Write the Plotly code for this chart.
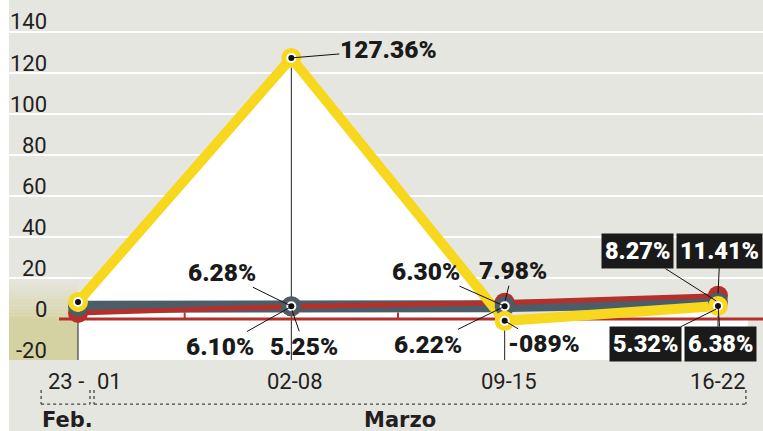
import plotly.graph_objects as go

# ---------------- data ----------------
categories = ["23 - 01", "02-08", "09-15", "16-22"]
x_pos = [0, 1, 2, 3]
yellow_vals = [8.3, 127.36, -0.89, 6.38]
grey_vals = [6.0, 6.28, 6.30, 8.27]
red_vals = [3.0, 6.10, 7.98, 11.41]
green_vals = [4.0, 5.25, 6.22, 5.32]
y_ticks = [-20, 0, 20, 40, 60, 80, 100, 120, 140]
month_labels = ["Feb.", "Marzo"]

# labels: (series values, index, text, ax, ay, boxed)
point_labels = [
    (yellow_vals, 1, "127.36%", 97, -8, False),
    (grey_vals, 1, "6.28%", -69, -34, False),
    (red_vals, 1, "6.10%", -71, 40, False),
    (green_vals, 1, "5.25%", 13, 38, False),
    (grey_vals, 2, "6.30%", -79, -35, False),
    (red_vals, 2, "7.98%", 8, -32, False),
    (green_vals, 2, "6.22%", -77, 38, False),
    (yellow_vals, 2, "-089%", 39, 23, False),
    (grey_vals, 3, "8.27%", -80, -51, True),
    (red_vals, 3, "11.41%", 2, -45, True),
    (green_vals, 3, "5.32%", -72, 36, True),
    (yellow_vals, 3, "6.38%", 3, 38, True),
]

# ---------------- styles ----------------
YEL = "#f7d81f"
GRY = "#4b5d68"
RED = "#b5302a"
GRN = "#dfe36c"
BG = "#e6e6e1"
KHAKI = "#d4d2a2"
X_RANGE = [-0.3235, 3.211]
Y_RANGE = [-54.6, 155.6]
TICKFONT = "Roboto, sans-serif"
BOLDFONT = "Roboto, sans-serif"

fig = go.Figure()

# white area under the yellow series
fig.add_trace(go.Scatter(x=x_pos, y=yellow_vals, mode="none", fill="tozeroy",
                         fillcolor="white", hoverinfo="skip", showlegend=False))

# vertical drop lines from the highest value at each category
vx, vy = [], []
for i, xp in enumerate(x_pos):
    top = max(yellow_vals[i], grey_vals[i], red_vals[i], green_vals[i])
    vx += [xp, xp, None]
    vy += [top, y_ticks[0], None]
fig.add_trace(go.Scatter(x=vx, y=vy, mode="lines", line=dict(color="#222", width=1),
                         hoverinfo="skip", showlegend=False))

# red zero line + small ticks between categories
fig.add_trace(go.Scatter(x=[-0.089, X_RANGE[1]], y=[0, 0], mode="lines",
                         line=dict(color=RED, width=3), hoverinfo="skip", showlegend=False))
tx, ty = [], []
for a, b in zip(x_pos[:-1], x_pos[1:]):
    m = (a + b) / 2
    tx += [m, m, None]
    ty += [0, 3.2, None]
fig.add_trace(go.Scatter(x=tx, y=ty, mode="lines", line=dict(color=RED, width=2),
                         hoverinfo="skip", showlegend=False))

# series lines
fig.add_trace(go.Scatter(x=x_pos, y=green_vals, mode="lines", line=dict(color=GRN, width=4),
                         hoverinfo="skip", showlegend=False))
fig.add_trace(go.Scatter(x=x_pos, y=grey_vals, mode="lines", line=dict(color=GRY, width=12),
                         hoverinfo="skip", showlegend=False))
fig.add_trace(go.Scatter(x=x_pos, y=red_vals, mode="lines", line=dict(color=RED, width=5),
                         hoverinfo="skip", showlegend=False))
fig.add_trace(go.Scatter(x=x_pos, y=yellow_vals, mode="lines", line=dict(color=YEL, width=10),
                         hoverinfo="skip", showlegend=False))

# markers
fig.add_trace(go.Scatter(x=x_pos, y=red_vals, mode="markers",
                         marker=dict(size=20, color=RED, line=dict(width=0)),
                         hoverinfo="skip", showlegend=False))
for vals, col in [(grey_vals, GRY), (yellow_vals, YEL)]:
    fig.add_trace(go.Scatter(x=x_pos, y=vals, mode="markers",
                             marker=dict(size=15, color="white", line=dict(width=5, color=col)),
                             hoverinfo="skip", showlegend=False))
    fig.add_trace(go.Scatter(x=x_pos, y=vals, mode="markers",
                             marker=dict(size=6, color="#111", line=dict(width=0)),
                             hoverinfo="skip", showlegend=False))

shapes = []
# khaki block and gradient in the axis column
shapes.append(dict(type="rect", xref="x", yref="y", x0=X_RANGE[0], x1=0, y0=-20, y1=0,
                   fillcolor=KHAKI, line=dict(width=0), layer="below"))
n = 12
c0 = (0xe6, 0xe6, 0xe1)
c1 = (0xd6, 0xd4, 0xa6)
for k in range(n):
    t = (k + 0.5) / n
    c = tuple(round(c1[j] + (c0[j] - c1[j]) * t) for j in range(3))
    shapes.append(dict(type="rect", xref="x", yref="y", x0=X_RANGE[0], x1=0,
                       y0=20 * k / n, y1=20 * (k + 1) / n,
                       fillcolor="rgb(%d,%d,%d)" % c, line=dict(width=0), layer="below"))
# white strip under zero
shapes.append(dict(type="rect", xref="x", yref="y", x0=0, x1=3.14, y0=-20, y1=0,
                   fillcolor="white", line=dict(width=0), layer="below"))

# dotted month brackets
def bracket(x0, x1, ytop, ybot):
    d = dict(color="#444", width=1.3, dash="dot")
    return [
        dict(type="line", xref="x", yref="y", x0=x0, x1=x0, y0=ytop, y1=ybot, line=d),
        dict(type="line", xref="x", yref="y", x0=x0, x1=x1, y0=ybot, y1=ybot, line=d),
        dict(type="line", xref="x", yref="y", x0=x1, x1=x1, y0=ytop, y1=ybot, line=d),
    ]
shapes += bracket(-0.173, 0.056, -34.6, -41.5)
shapes += bracket(0.075, 3.131, -34.6, -41.5)

annotations = []
# y tick labels (sit just above their gridline)
for v in y_ticks:
    annotations.append(dict(x=-0.136, y=v, xref="x", yref="y", text=str(v), showarrow=False,
                            xanchor="right", yanchor="middle", yshift=10,
                            font=dict(family=TICKFONT, size=22, color="#231f20")))
# category labels
cat_y = -30.7
annotations.append(dict(x=x_pos[0], y=cat_y, xref="x", yref="y", text="23 -", showarrow=False,
                        xshift=-12, font=dict(family=TICKFONT, size=22, color="#231f20")))
annotations.append(dict(x=x_pos[0], y=cat_y, xref="x", yref="y", text="01", showarrow=False,
                        xshift=31, font=dict(family=TICKFONT, size=22, color="#231f20")))
for i in range(1, len(categories)):
    annotations.append(dict(x=x_pos[i], y=cat_y, xref="x", yref="y", text=categories[i],
                            showarrow=False, xshift=4 if i < 3 else 0,
                            font=dict(family=TICKFONT, size=22, color="#231f20")))
# month labels
for xm, txt in zip([-0.047, 1.509], month_labels):
    annotations.append(dict(x=xm, y=-49.3, xref="x", yref="y", text=txt, showarrow=False,
                            font=dict(family="DejaVu Sans, sans-serif", size=21,
                                      color="#231f20", weight="bold")))

# value labels with leader lines
for vals, i, txt, ax, ay, boxed in point_labels:
    annotations.append(dict(
        x=x_pos[i], y=vals[i], xref="x", yref="y", text=txt,
        showarrow=True, arrowhead=0, arrowwidth=1, arrowcolor="#111", ax=ax, ay=ay,
        standoff=2,
        font=dict(family=BOLDFONT, size=23.5 if boxed else 24.5,
                  color="white" if boxed else "#1a1a1a", weight=900),
        bgcolor="#1a1a1a" if boxed else None, borderpad=3 if boxed else 0,
    ))

fig.update_layout(
    width=763, height=431,
    margin=dict(l=9, r=0, t=0, b=0),
    paper_bgcolor="white", plot_bgcolor=BG,
    showlegend=False,
    xaxis=dict(range=X_RANGE, showgrid=False, zeroline=False, showticklabels=False,
               showline=False, fixedrange=True),
    yaxis=dict(range=Y_RANGE, tickvals=[v for v in y_ticks if v > 0], showgrid=True,
               gridcolor="white", gridwidth=2, zeroline=False, showticklabels=False,
               showline=False, fixedrange=True),
    shapes=shapes, annotations=annotations,
)

fig.write_html("out.html", config={"displayModeBar": False},
               post_script="document.body.style.margin='0';document.body.style.overflow='hidden';")
